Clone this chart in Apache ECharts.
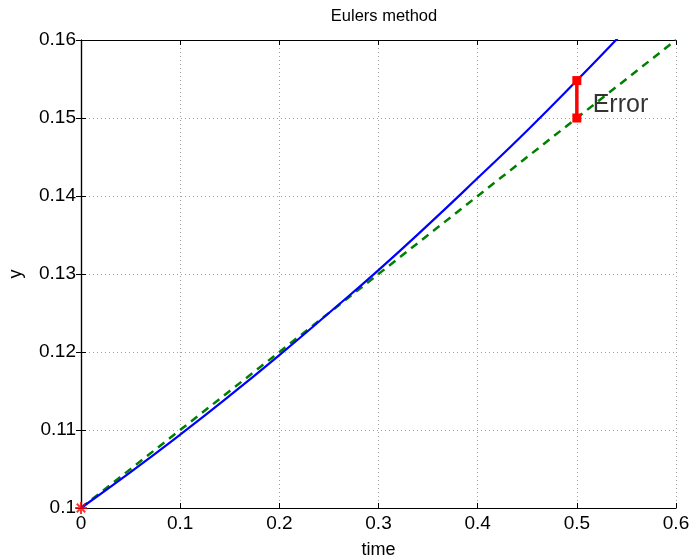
<!DOCTYPE html>
<html><head><meta charset="utf-8">
<script src="https://cdn.jsdelivr.net/npm/echarts@6/dist/echarts.min.js"></script>
<style>html,body{margin:0;padding:0;background:#fff}#c{width:691px;height:559px}</style>
</head><body><div id="c"></div>
<script>
// Exact solution (blue)
const exactT = [0, 0.05, 0.1, 0.15, 0.2, 0.25, 0.3, 0.35, 0.4, 0.45, 0.5, 0.55];
const exactY = [0.1, 0.1046, 0.1094, 0.1144, 0.1196, 0.1250, 0.1305, 0.1363, 0.1423, 0.1484, 0.1548, 0.1614];
// Euler step (green dashed)
const eulerT = [0, 0.6];
const eulerY = [0.1, 0.16];
// Error bar at t = 0.5
const errT = [0.5, 0.5];
const errY = [0.1548, 0.15];
// Initial point
const startT = [0];
const startY = [0.1];
// Annotation
const errLabel = 'Error';
const errLabelPos = [0.516, 0.1516];
const xTicks = [0, 0.1, 0.2, 0.3, 0.4, 0.5, 0.6];
const yTicks = [0.1, 0.11, 0.12, 0.13, 0.14, 0.15, 0.16];

const FONT = 'Liberation Sans, Arial, sans-serif';
const zip = (a, b) => a.map((v, i) => [v, b[i]]);
const chart = echarts.init(document.getElementById('c'), null, {renderer: 'canvas'});
const tickStyle = {show: true, inside: true, length: 5, lineStyle: {color: '#000', width: 1}};
const lineAx = {lineStyle: {color: '#000', width: 1.2}};
const gridLine = {show: true, lineStyle: {color: '#a0a0a0', type: [1, 3], width: 1}};

chart.setOption({
  animation: false,
  title: {text: 'Eulers method', left: 379, top: 3, textAlign: 'center',
    textStyle: {fontFamily: FONT, fontSize: 16.5, fontWeight: 'normal', color: '#000'}},
  grid: {left: 81, right: 15, top: 40, bottom: 51, containLabel: false, outerBoundsMode: 'none'},
  xAxis: [{
    type: 'value', min: 0, max: 0.6, interval: 0.1,
    name: 'time', nameLocation: 'middle', nameGap: 33,
    nameTextStyle: {fontFamily: FONT, fontSize: 18, color: '#000'},
    axisLine: lineAx, axisTick: tickStyle, splitLine: gridLine,
    axisLabel: {fontFamily: FONT, fontSize: 19, color: '#000', margin: 6,
      formatter: v => String(+v.toFixed(2))}
  }, {
    type: 'value', min: 0, max: 0.6, interval: 0.1, position: 'top',
    axisLine: lineAx, axisTick: tickStyle, splitLine: {show: false}, axisLabel: {show: false}
  }],
  yAxis: [{
    type: 'value', min: 0.1, max: 0.16, interval: 0.01,
    name: 'y', nameLocation: 'middle', nameGap: 56, nameRotate: 90,
    nameTextStyle: {fontFamily: FONT, fontSize: 18, color: '#000'},
    axisLine: lineAx, axisTick: tickStyle, splitLine: gridLine,
    axisLabel: {fontFamily: FONT, fontSize: 19, color: '#000', margin: 5,
      formatter: v => String(+v.toFixed(2))}
  }, {
    type: 'value', min: 0.1, max: 0.16, interval: 0.01, position: 'right',
    axisLine: lineAx, axisTick: tickStyle, splitLine: {show: false}, axisLabel: {show: false}
  }],
  series: [
    {type: 'line', data: zip(exactT, exactY), smooth: true, symbol: 'none', clip: true,
      lineStyle: {color: '#0000ff', width: 2.2}, z: 3},
    {type: 'line', data: zip(eulerT, eulerY), symbol: 'none', clip: true,
      lineStyle: {color: '#008000', width: 2.5, type: [8, 6]}, z: 2},
    {type: 'line', data: zip(errT, errY), symbol: 'rect', symbolSize: 9, clip: false,
      lineStyle: {color: '#ff0000', width: 3.5}, itemStyle: {color: '#ff0000'}, z: 4},
    {type: 'scatter', data: zip(startT, startY), clip: false,
      symbol: 'path://M0 5 L10 5 M5 0 L5 10 M1.5 1.5 L8.5 8.5 M8.5 1.5 L1.5 8.5',
      symbolSize: 12, itemStyle: {color: 'none', borderColor: '#ff0000', borderWidth: 2}, z: 5},
    {type: 'scatter', data: [errLabelPos], symbolSize: 0, silent: true,
      label: {show: true, formatter: errLabel, position: 'right', distance: 0,
        fontFamily: FONT, fontSize: 25, color: '#000'}, z: 6}
  ]
});
</script></body></html>
